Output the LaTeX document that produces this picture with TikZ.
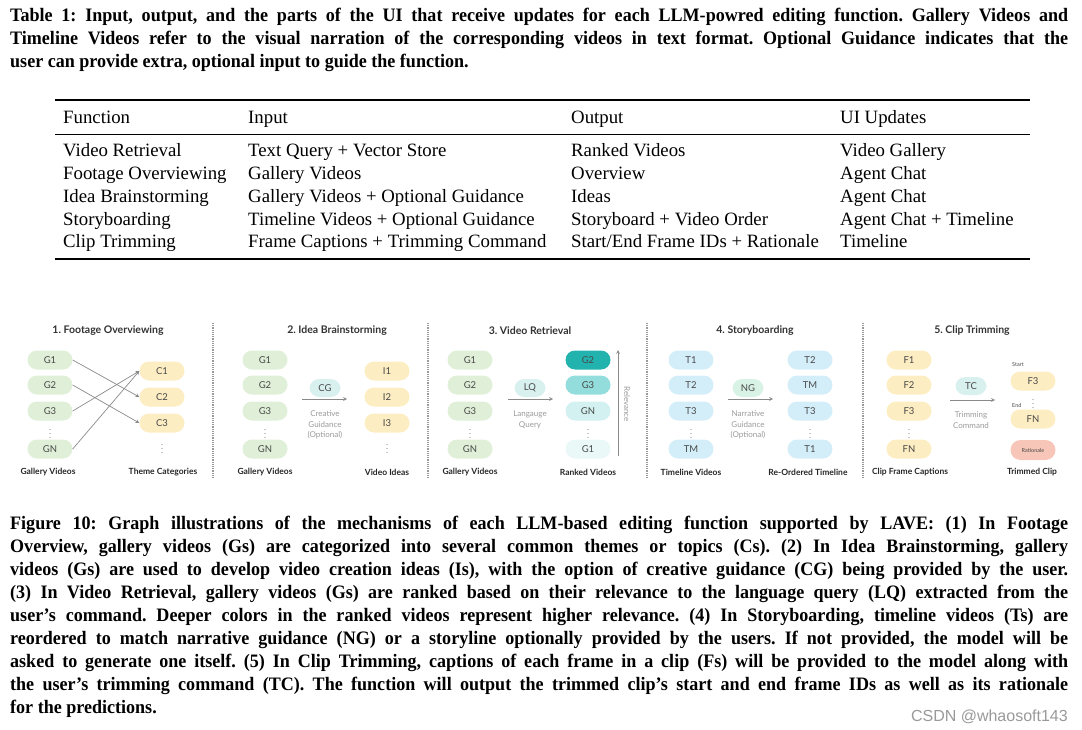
\documentclass[tikz,border=0pt]{standalone}
\usepackage{fontspec}
\setmainfont{Liberation Serif}
\newfontfamily\capfont[FakeStretch=0.95]{Liberation Serif}
\newfontfamily\lato{Lato}
\newfontfamily\markfont{Liberation Sans}
\usetikzlibrary{arrows,shapes}
\frenchspacing

\newcommand{\fullline}[1]{\makebox[1058pt][s]{#1}}

\begin{document}
\begin{tikzpicture}[x=1pt,y=-1pt]
	\definecolor{colorG}{HTML}{E0EFD8}
	\definecolor{colorY}{HTML}{FDEDC2}
	\definecolor{colorT}{HTML}{D4EEF9}
	\definecolor{colorQ}{HTML}{D8F1EF}
	\definecolor{colorN}{HTML}{D9F2E6}
	\definecolor{colorR}{HTML}{F8C6B8}
	\definecolor{rank1}{HTML}{22B3AE}
	\definecolor{rank2}{HTML}{93DEDC}
	\definecolor{rank3}{HTML}{D3F1F1}
	\definecolor{rank4}{HTML}{EAF8F8}
	\definecolor{colorTxt}{HTML}{484848}
	\definecolor{colorHint}{HTML}{9A9A9A}
	\definecolor{colorEdge}{HTML}{8A8A8A}
	\tikzset{
		capline/.style={anchor=base west, inner sep=0pt, font=\capfont\bfseries\fontsize{19}{23}\selectfont},
		cell/.style={anchor=base west, inner sep=0pt, font=\fontsize{18.8}{22}\selectfont},
		pill/.style={rounded corners=9.5pt, minimum width=45pt, minimum height=19pt, inner sep=0pt, text=colorTxt, font=\lato\fontsize{9.5}{11}\selectfont},
		guide/.style={pill, minimum width=31pt, minimum height=18pt},
		vdots/.style={inner sep=0pt, text=colorTxt, font=\fontsize{8}{8}\selectfont},
		title/.style={inner sep=0pt, text=black!80, font=\lato\bfseries\fontsize{10.5}{12}\selectfont},
		footer/.style={inner sep=0pt, text=black!85, font=\lato\bfseries\fontsize{8.5}{10}\selectfont},
		hint/.style={inner sep=0pt, align=center, text=colorHint, font=\lato\fontsize{8}{10.5}\selectfont},
		edge/.style={->, >=stealth, colorEdge, line width=0.7pt},
		sep/.style={colorHint, line width=1.2pt, densely dotted}
	}
	\useasboundingbox (0,0) rectangle (1082,730);

	%% Table caption ------
	\node[capline] (tcap1) at (10,22) {\fullline{Table 1: Input, output, and the parts of the UI that receive updates for each LLM-powred editing function. Gallery Videos and}};
	\node[capline] (tcap2) at (10,45) {\fullline{Timeline Videos refer to the visual narration of the corresponding videos in text format. Optional Guidance indicates that the}};
	\node[capline] (tcap3) at (10,68) {user can provide extra, optional input to guide the function.};

	%% Table ------
	\draw[line width=1.6pt] (55,100) -- (1030,100);
	\draw[line width=0.8pt] (55,134) -- (1030,134);
	\draw[line width=1.6pt] (55,259) -- (1030,259);
	\node[cell] (hfun) at (63,124) {Function};
	\node[cell] (hin) at (248,124) {Input};
	\node[cell] (hout) at (571,124) {Output};
	\node[cell] (hui) at (840,124) {UI Updates};
	\node[cell] (fun1) at (63,157) {Video Retrieval};
	\node[cell] (in1) at (248,157) {Text Query + Vector Store};
	\node[cell] (out1) at (571,157) {Ranked Videos};
	\node[cell] (ui1) at (840,157) {Video Gallery};
	\node[cell] (fun2) at (63,180) {Footage Overviewing};
	\node[cell] (in2) at (248,180) {Gallery Videos};
	\node[cell] (out2) at (571,180) {Overview};
	\node[cell] (ui2) at (840,180) {Agent Chat};
	\node[cell] (fun3) at (63,203) {Idea Brainstorming};
	\node[cell] (in3) at (248,203) {Gallery Videos + Optional Guidance};
	\node[cell] (out3) at (571,203) {Ideas};
	\node[cell] (ui3) at (840,203) {Agent Chat};
	\node[cell] (fun4) at (63,226) {Storyboarding};
	\node[cell] (in4) at (248,226) {Timeline Videos + Optional Guidance};
	\node[cell] (out4) at (571,226) {Storyboard + Video Order};
	\node[cell] (ui4) at (840,226) {Agent Chat + Timeline};
	\node[cell] (fun5) at (63,248) {Clip Trimming};
	\node[cell] (in5) at (248,248) {Frame Captions + Trimming Command};
	\node[cell] (out5) at (571,248) {Start/End Frame IDs + Rationale};
	\node[cell] (ui5) at (840,248) {Timeline};

	%% Separators ------
	\draw[sep] (213,323) -- (213,478);
	\draw[sep] (428,323) -- (428,478);
	\draw[sep] (647,323) -- (647,478);
	\draw[sep] (863,323) -- (863,478);

	%% 1. Footage Overviewing ------
	\node[title] (t1) at (108,331) {1. Footage Overviewing};
	\node[pill, fill=colorG] (p1g1) at (50,360) {G1};
	\node[pill, fill=colorG] (p1g2) at (50,385) {G2};
	\node[pill, fill=colorG] (p1g3) at (50,411) {G3};
	\node[vdots] (p1gd) at (50,431) {$\vdots$};
	\node[pill, fill=colorG] (p1gn) at (50,449) {GN};
	\node[pill, fill=colorY] (p1c1) at (162,371) {C1};
	\node[pill, fill=colorY] (p1c2) at (162,397) {C2};
	\node[pill, fill=colorY] (p1c3) at (162,423) {C3};
	\node[vdots] (p1cd) at (162,446) {$\vdots$};
	\node[footer] (f1a) at (48,472) {Gallery Videos};
	\node[footer] (f1b) at (163,472) {Theme Categories};
	\draw[edge] (p1g1.east) -- (p1c2.west);
	\draw[edge] (p1g2.east) -- (p1c3.west);
	\draw[edge] (p1g3.east) -- (p1c1.west);
	\draw[edge] (p1gn.east) -- (p1c1.west);

	%% 2. Idea Brainstorming ------
	\node[title] (t2) at (337,331) {2. Idea Brainstorming};
	\node[pill, fill=colorG] (p2g1) at (265,360) {G1};
	\node[pill, fill=colorG] (p2g2) at (265,385) {G2};
	\node[pill, fill=colorG] (p2g3) at (265,411) {G3};
	\node[vdots] (p2gd) at (265,431) {$\vdots$};
	\node[pill, fill=colorG] (p2gn) at (265,449) {GN};
	\node[guide, fill=colorQ] (p2cg) at (325,388) {CG};
	\coordinate (p2s) at (302,399);
	\coordinate (p2e) at (347,399);
	\draw[edge] (p2s) -- (p2e);
	\node[hint] (h2) at (325,425) {Creative\\Guidance\\(Optional)};
	\node[pill, fill=colorY] (p2i1) at (387,371) {I1};
	\node[pill, fill=colorY] (p2i2) at (387,397) {I2};
	\node[pill, fill=colorY] (p2i3) at (387,423) {I3};
	\node[vdots] (p2id) at (387,446) {$\vdots$};
	\node[footer] (f2a) at (265,472) {Gallery Videos};
	\node[footer] (f2b) at (387,472) {Video Ideas};

	%% 3. Video Retrieval ------
	\node[title] (t3) at (530,331) {3. Video Retrieval};
	\node[pill, fill=colorG] (p3g1) at (470,360) {G1};
	\node[pill, fill=colorG] (p3g2) at (470,385) {G2};
	\node[pill, fill=colorG] (p3g3) at (470,411) {G3};
	\node[vdots] (p3gd) at (470,431) {$\vdots$};
	\node[pill, fill=colorG] (p3gn) at (470,449) {GN};
	\node[guide, fill=colorQ] (p3lq) at (530,388) {LQ};
	\coordinate (p3s) at (508,399);
	\coordinate (p3e) at (553,399);
	\draw[edge] (p3s) -- (p3e);
	\node[hint] (h3) at (530,420) {Langauge\\Query};
	\node[pill, fill=rank1] (p3r1) at (588,360) {G2};
	\node[pill, fill=rank2] (p3r2) at (588,385) {G3};
	\node[pill, fill=rank3] (p3r3) at (588,411) {GN};
	\node[vdots] (p3rd) at (588,431) {$\vdots$};
	\node[pill, fill=rank4] (p3r4) at (588,449) {G1};
	\coordinate (p3lo) at (618,456);
	\coordinate (p3hi) at (618,350);
	\draw[edge] (p3lo) -- (p3hi);
	\node[hint, rotate=-90] (h3r) at (627,404) {Relevance};
	\node[footer] (f3a) at (470,472) {Gallery Videos};
	\node[footer] (f3b) at (588,472) {Ranked Videos};

	%% 4. Storyboarding ------
	\node[title] (t4) at (755,331) {4. Storyboarding};
	\node[pill, fill=colorT] (p4t1) at (691,360) {T1};
	\node[pill, fill=colorT] (p4t2) at (691,385) {T2};
	\node[pill, fill=colorT] (p4t3) at (691,411) {T3};
	\node[vdots] (p4td) at (691,431) {$\vdots$};
	\node[pill, fill=colorT] (p4tm) at (691,449) {TM};
	\node[guide, fill=colorN] (p4ng) at (748,388) {NG};
	\coordinate (p4s) at (728,399);
	\coordinate (p4e) at (773,399);
	\draw[edge] (p4s) -- (p4e);
	\node[hint] (h4) at (748,425) {Narrative\\Guidance\\(Optional)};
	\node[pill, fill=colorT] (p4o1) at (810,360) {T2};
	\node[pill, fill=colorT] (p4o2) at (810,385) {TM};
	\node[pill, fill=colorT] (p4o3) at (810,411) {T3};
	\node[vdots] (p4od) at (810,431) {$\vdots$};
	\node[pill, fill=colorT] (p4o4) at (810,449) {T1};
	\node[footer] (f4a) at (691,472) {Timeline Videos};
	\node[footer] (f4b) at (808,472) {Re-Ordered Timeline};

	%% 5. Clip Trimming ------
	\node[title] (t5) at (972,331) {5. Clip Trimming};
	\node[pill, fill=colorY] (p5f1) at (909,360) {F1};
	\node[pill, fill=colorY] (p5f2) at (909,385) {F2};
	\node[pill, fill=colorY] (p5f3) at (909,411) {F3};
	\node[vdots] (p5fd) at (909,431) {$\vdots$};
	\node[pill, fill=colorY] (p5fn) at (909,449) {FN};
	\node[guide, fill=colorQ] (p5tc) at (971,386) {TC};
	\coordinate (p5s) at (950,400);
	\coordinate (p5e) at (995,400);
	\draw[edge] (p5s) -- (p5e);
	\node[hint] (h5) at (971,420) {Trimming\\Command};
	\node[inner sep=0pt, anchor=west, text=colorTxt, font=\lato\fontsize{5.5}{6}\selectfont] (p5start) at (1012,365) {Start};
	\node[pill, fill=colorY] (p5c1) at (1033,381) {F3};
	\node[vdots] (p5cd) at (1033,401) {$\vdots$};
	\node[inner sep=0pt, anchor=west, text=colorTxt, font=\lato\fontsize{5.5}{6}\selectfont] (p5end) at (1012,405) {End};
	\node[pill, fill=colorY] (p5c2) at (1033,419) {FN};
	\node[pill, fill=colorR, minimum height=20pt, rounded corners=10pt, font=\lato\fontsize{5.5}{6}\selectfont] (p5rat) at (1033,450) {Rationale};
	\node[footer] (f5a) at (910,472) {Clip Frame Captions};
	\node[footer] (f5b) at (1032,472) {Trimmed Clip};

	%% Figure caption ------
	\node[capline] (fcap1) at (10,529) {\fullline{Figure 10: Graph illustrations of the mechanisms of each LLM-based editing function supported by LAVE: (1) In Footage}};
	\node[capline] (fcap2) at (10,552) {\fullline{Overview, gallery videos (Gs) are categorized into several common themes or topics (Cs). (2) In Idea Brainstorming, gallery}};
	\node[capline] (fcap3) at (10,575) {\fullline{videos (Gs) are used to develop video creation ideas (Is), with the option of creative guidance (CG) being provided by the user.}};
	\node[capline] (fcap4) at (10,598) {\fullline{(3) In Video Retrieval, gallery videos (Gs) are ranked based on their relevance to the language query (LQ) extracted from the}};
	\node[capline] (fcap5) at (10,621) {\fullline{user’s command. Deeper colors in the ranked videos represent higher relevance. (4) In Storyboarding, timeline videos (Ts) are}};
	\node[capline] (fcap6) at (10,644) {\fullline{reordered to match narrative guidance (NG) or a storyline optionally provided by the users. If not provided, the model will be}};
	\node[capline] (fcap7) at (10,667) {\fullline{asked to generate one itself. (5) In Clip Trimming, captions of each frame in a clip (Fs) will be provided to the model along with}};
	\node[capline] (fcap8) at (10,690) {\fullline{the user’s trimming command (TC). The function will output the trimmed clip’s start and end frame IDs as well as its rationale}};
	\node[capline] (fcap9) at (10,713) {for the predictions.};
	\node[anchor=base east, inner sep=0pt, text=black!40, font=\markfont\fontsize{16}{18}\selectfont] (mark) at (1068,721) {CSDN @whaosoft143};
\end{tikzpicture}
\end{document}
